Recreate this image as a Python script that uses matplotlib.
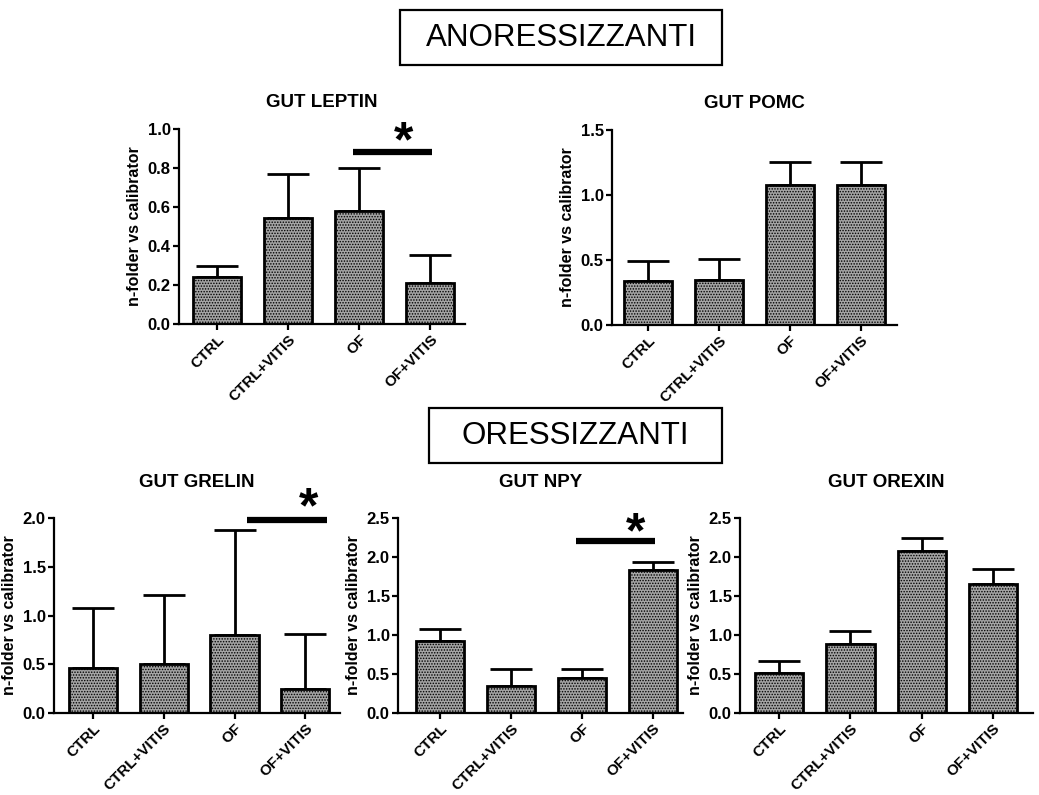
"""Gut peptide expression panels: anorexigenic vs orexigenic, n-folder vs calibrator."""
import numpy as np
import matplotlib
matplotlib.use("Agg")
import matplotlib.pyplot as plt

plt.rcParams["font.family"] = ["Liberation Sans", "DejaVu Sans"]
plt.rcParams["hatch.color"] = "#3a3a3a"
plt.rcParams["hatch.linewidth"] = 0.7

GROUPS = ["CTRL", "CTRL+VITIS", "OF", "OF+VITIS"]

LEPTIN_MEAN = [0.24, 0.545, 0.58, 0.21]
LEPTIN_ERR = [0.055, 0.225, 0.22, 0.145]
POMC_MEAN = [0.34, 0.35, 1.08, 1.08]
POMC_ERR = [0.155, 0.16, 0.175, 0.175]
GRELIN_MEAN = [0.46, 0.50, 0.80, 0.25]
GRELIN_ERR = [0.62, 0.71, 1.08, 0.56]
NPY_MEAN = [0.92, 0.34, 0.45, 1.83]
NPY_ERR = [0.16, 0.23, 0.11, 0.10]
OREXIN_MEAN = [0.51, 0.88, 2.08, 1.66]
OREXIN_ERR = [0.16, 0.17, 0.17, 0.18]

W, H = 1039, 795
STAR_PT = 36

# title, means, errs, ymax, ystep, (left, right, top, bottom) px, xlim, title pad, significance
PANELS = [
    ("GUT LEPTIN", LEPTIN_MEAN, LEPTIN_ERR, 1.0, 0.2, (179, 465, 129, 324), (-0.535, 3.49), 16,
     dict(y=0.88, x0=1.92, x1=3.03, sx=2.62, sy=0.96)),
    ("GUT POMC", POMC_MEAN, POMC_ERR, 1.5, 0.5, (612, 897, 130, 325), (-0.507, 3.507), 16, None),
    ("GUT GRELIN", GRELIN_MEAN, GRELIN_ERR, 2.0, 0.5, (54, 340, 518, 713), (-0.55, 3.49), 22,
     dict(y=1.98, x0=2.18, x1=3.31, sx=3.04, sy=2.16)),
    ("GUT NPY", NPY_MEAN, NPY_ERR, 2.5, 0.5, (398, 683, 518, 713), (-0.59, 3.42), 22,
     dict(y=2.2, x0=1.92, x1=3.03, sx=2.75, sy=2.38)),
    ("GUT OREXIN", OREXIN_MEAN, OREXIN_ERR, 2.5, 0.5, (740, 1033, 518, 713), (-0.55, 3.56), 22, None),
]


def px_rect(l, r, t, b):
    return [l / W, 1 - b / H, (r - l) / W, (b - t) / H]


def draw_panel(fig, title, means, errs, ymax, ystep, box, xlim, tpad, sig):
    ax = fig.add_axes(px_rect(*box))
    x = np.arange(len(GROUPS))
    ax.bar(x, means, width=0.68, color="#a4a4a4", edgecolor="black", linewidth=2.0,
           hatch="......", zorder=2)
    ax.errorbar(x, means, yerr=[np.zeros(len(errs)), errs], fmt="none", ecolor="black",
                elinewidth=2.0, capsize=15, capthick=2.0, zorder=1)
    ax.set_xlim(*xlim)
    ax.set_ylim(0, ymax)
    yt = np.arange(0, ymax + 1e-9, ystep)
    ax.set_yticks(yt)
    ax.set_yticklabels([f"{v:.1f}" for v in yt], fontsize=12, fontweight="bold")
    ax.set_xticks(x)
    ax.set_xticklabels(GROUPS, rotation=45, ha="right", rotation_mode="anchor",
                       fontsize=11, fontweight="bold")
    for s in ("top", "right"):
        ax.spines[s].set_visible(False)
    for s in ("left", "bottom"):
        ax.spines[s].set_linewidth(1.6)
    ax.tick_params(direction="out", length=4, width=1.6, pad=2)
    ax.set_ylabel("n-folder vs calibrator", fontsize=11.5, fontweight="bold", labelpad=4)
    ax.set_title(title, fontsize=13.5, fontweight="bold", pad=tpad)
    if sig:
        ax.plot([sig["x0"], sig["x1"]], [sig["y"], sig["y"]], color="black", lw=4.5,
                solid_capstyle="butt", clip_on=False)
        # shift down so the asterisk glyph (not its text box) sits on (sx, sy)
        ax.annotate("*", (sig["sx"], sig["sy"]), xytext=(0, -0.40 * STAR_PT),
                    textcoords="offset points", fontsize=STAR_PT, fontweight="bold",
                    ha="center", va="baseline", annotation_clip=False)
    return ax


def header(fig, text, l, r, t, b):
    fig.patches.append(plt.Rectangle((l / W, 1 - b / H), (r - l) / W, (b - t) / H,
                                     transform=fig.transFigure, fill=False,
                                     edgecolor="black", linewidth=1.6))
    fig.text((l + r) / 2 / W, 1 - (t + b) / 2 / H, text, fontsize=22.5,
             ha="center", va="center")


fig = plt.figure(figsize=(W / 100, H / 100), dpi=100)
for p in PANELS:
    draw_panel(fig, *p)

header(fig, "ANORESSIZZANTI", 400, 722, 10, 65)
header(fig, "ORESSIZZANTI", 429, 722, 408, 463)

fig.savefig("out.png", dpi=100)
